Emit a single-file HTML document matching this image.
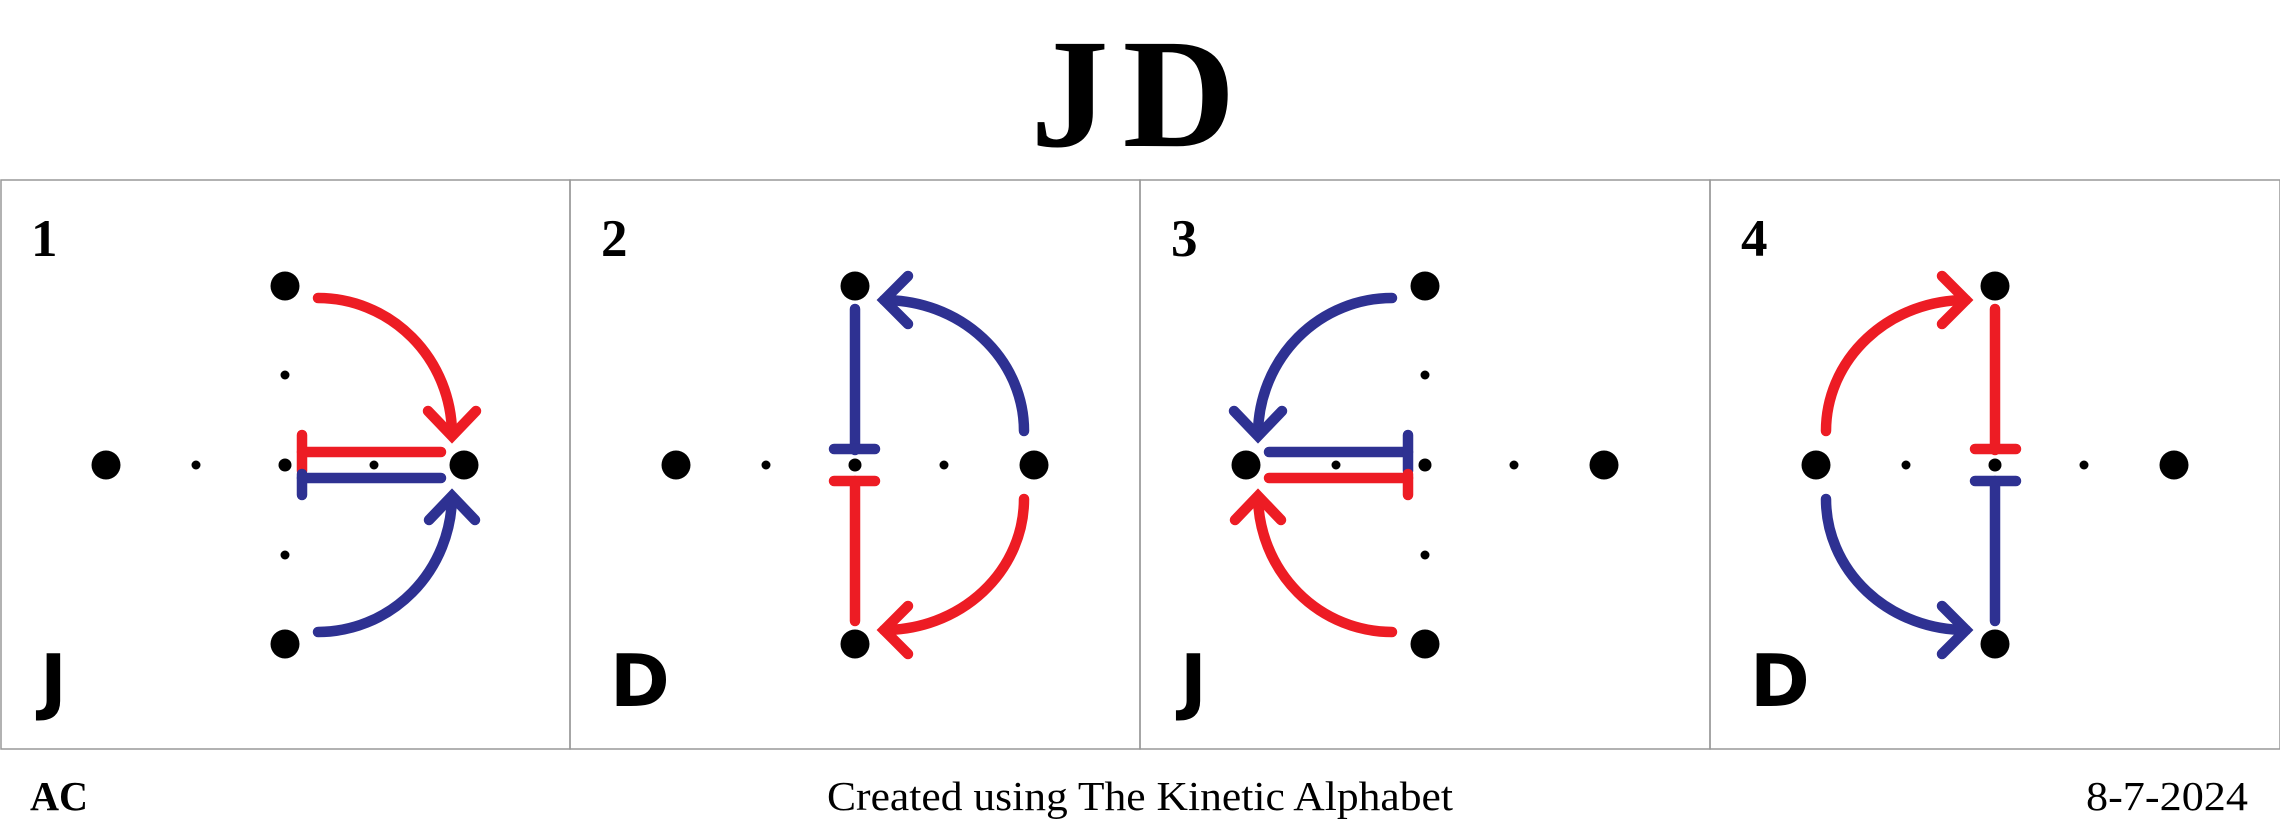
<!DOCTYPE html>
<html><head><meta charset="utf-8"><style>
html,body{margin:0;padding:0;background:#fff;}
svg{display:block;}
</style></head><body>
<svg id="chart" width="2280" height="840" viewBox="0 0 2280 840" xmlns="http://www.w3.org/2000/svg">
<text x="1140" y="146" text-anchor="middle" font-family="Liberation Serif, serif" font-weight="bold" font-size="156" letter-spacing="14">JD</text>
<text x="30" y="810" font-family="Liberation Serif, serif" font-weight="bold" font-size="41" textLength="58" lengthAdjust="spacingAndGlyphs">AC</text>
<text x="827" y="810" font-family="Liberation Serif, serif" font-size="41" textLength="626" lengthAdjust="spacingAndGlyphs">Created using The Kinetic Alphabet</text>
<text x="2086" y="810" font-family="Liberation Serif, serif" font-size="41" textLength="162" lengthAdjust="spacingAndGlyphs">8-7-2024</text>
</svg>
<script>
const panelNumbers = ["1","2","3","4"];
const panelLetters = ["J","D","J","D"];
const panelTypes = ["A","B","A","B"];
const panelMirror = [false,false,true,true];
const RED="#ed1c24", BLUE="#2e3192";
const NS="http://www.w3.org/2000/svg";
const svg=document.getElementById('chart');
function mk(tag,attrs,parent){const e=document.createElementNS(NS,tag);for(const k in attrs)e.setAttribute(k,attrs[k]);parent.appendChild(e);return e;}
const shapesA=[
 ["M318,298 A134,137 0 0 1 452,433","a"],["M428,411 L452,436 L476,411","a"],
 ["M302,452 H441","a"],["M302,435 V471","a"],
 ["M302,478 H441","b"],["M302,474 V495","b"],
 ["M318,632 A134,137 0 0 0 452,497","b"],["M429,520 L452,496 L475,520","b"]];
const shapesB=[
 ["M285,309 V450","b"],["M264,449 H305","b"],
 ["M264,481 H305","a"],["M285,481 V621","a"],
 ["M454,431 A140,131 0 0 0 314,300","b"],["M338,276 L314,300 L338,324","b"],
 ["M454,499 A140,131 0 0 1 314,630","a"],["M338,606 L314,630 L338,654","a"]];
for(let i=0;i<4;i++){
 const px=i*570;
 const g=mk('g',{transform:`translate(${px},0)`},svg);
 
 
 const r=mk('rect',{x:i===0?1:0,y:180,width:i===0?569:570,height:569,fill:'none',stroke:'#999','stroke-width':1.5},g);
 
 
 const n=mk('text',{x:31,y:256,'font-family':'Liberation Serif, serif','font-weight':'bold','font-size':53},g);
 n.textContent=panelNumbers[i];
 
 
 const l=mk('text',{x:40,y:706,'font-family':'DejaVu Sans, sans-serif','font-weight':'bold','font-size':72},g);
 l.textContent=panelLetters[i];
 
 
 const d=mk('g',{transform:panelMirror[i]?'translate(570,0) scale(-1,1)':''},g);
 
 
 [[106,465,14.5],[464,465,14.5],[285,286,14.5],[285,644,14.5],[196,465,4.5],[374,465,4.5],[285,375,4.5],[285,555,4.5],[285,465,6.5]].forEach(c=>{
  const dot=mk('circle',{cx:c[0],cy:c[1],r:c[2],fill:'#000'},d);
  
  
 });
 const shapes=panelTypes[i]==="A"?shapesA:shapesB;
 shapes.forEach(s=>{
  let col=s[1]==="a"?RED:BLUE;
  if(panelMirror[i]) col=(col===RED)?BLUE:RED;
  const p=mk('path',{d:s[0],fill:'none',stroke:col,'stroke-width':10.5,'stroke-linecap':'round','stroke-linejoin':'miter'},d);
  
  
 });
}
</script>
</body></html>
